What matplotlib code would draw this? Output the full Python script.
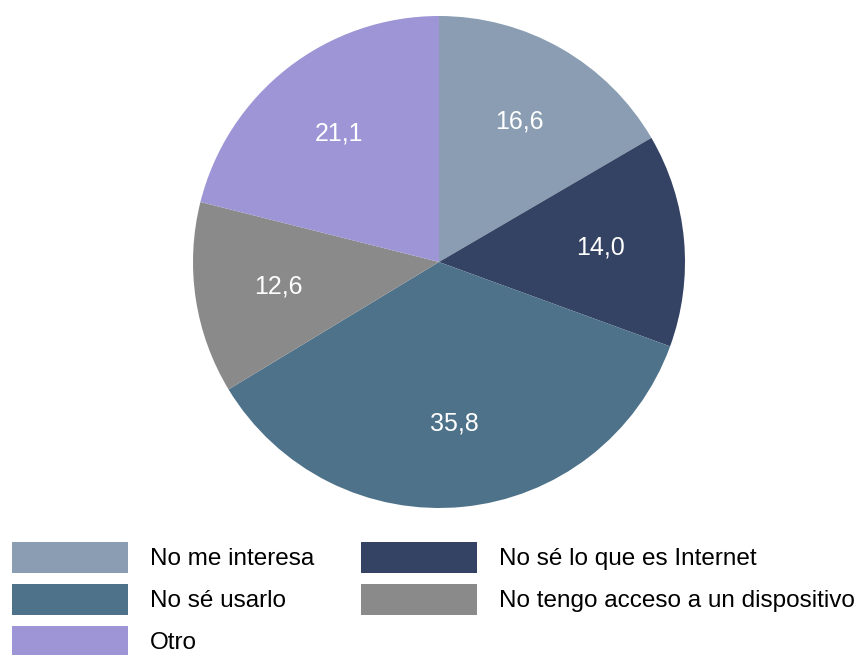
import matplotlib
matplotlib.use("Agg")
import matplotlib.pyplot as plt
from matplotlib.patches import Patch

plt.rcParams["font.family"] = ["Liberation Sans", "DejaVu Sans"]

# ── data ─────────────────────────────────────
categories = ["No me interesa", "No sé lo que es Internet", "No sé usarlo",
              "No tengo acceso a un dispositivo", "Otro"]
values = [16.6, 14.0, 35.8, 12.6, 21.1]
colors = ["#8a9db2", "#344263", "#4e7289", "#8a8a8a", "#9d95d5"]

W, H = 861, 655
fig = plt.figure(figsize=(W / 100, H / 100), dpi=100)

# pie centred at (439, 262) px, radius 246 px
cx, cy, r = 439, 262, 246
ax = fig.add_axes([(cx - r) / W, (H - cy - r) / H, 2 * r / W, 2 * r / H])
wedges, _, autotexts = ax.pie(
    values, colors=colors, startangle=90, counterclock=False,
    autopct=lambda p: f"{p * sum(values) / 100:.1f}".replace(".", ","),
    pctdistance=0.66, radius=1.0,
    wedgeprops={"linewidth": 0},
    textprops={"color": "white", "fontsize": 18},
)
ax.set_xlim(-1, 1)
ax.set_ylim(-1, 1)
ax.set_aspect("equal")
ax.axis("off")

# legend: 2 columns, filled row-wise
order = [0, 2, 4, 1, 3]
handles = [Patch(facecolor=colors[i], edgecolor="none") for i in order]
labels = [categories[i] for i in order]
fs = 17.5
px = fs * 100 / 72
hh = (31 / px - 0.245) / 0.65
fig.legend(handles, labels, ncol=2, loc="upper left",
           bbox_to_anchor=(12 / W, 1 - 542 / H),
           frameon=False, fontsize=fs, borderpad=0, borderaxespad=0,
           handlelength=116 / px, handleheight=hh,
           handletextpad=22 / px, columnspacing=47 / px,
           labelspacing=11 / px)

fig.savefig("out.png", dpi=100)
